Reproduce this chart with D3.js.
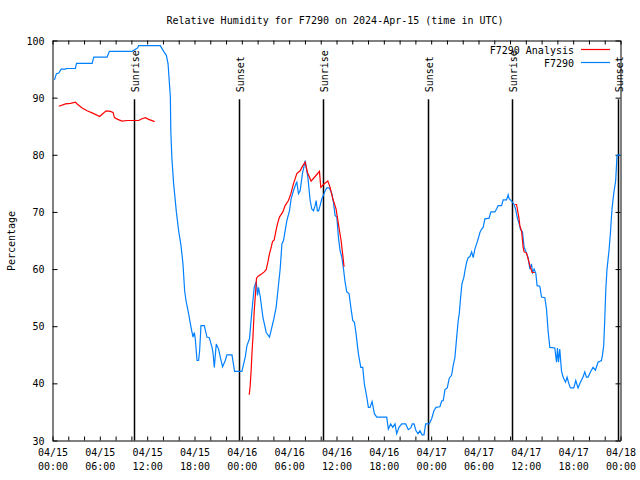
<!DOCTYPE html>
<html>
<head>
<meta charset="utf-8">
<script src="https://cdn.jsdelivr.net/npm/d3@7"></script>
<style>
  html, body { margin: 0; padding: 0; background: #fff; }
  svg { display: block; }
  text { font-family: "DejaVu Sans Mono", "Liberation Mono", monospace; font-size: 10px; fill: #000; }
</style>
</head>
<body>
<svg id="chart" width="640" height="480"></svg>
<script>
// ---- DATA (hours after 2024-04-15 00:00 UTC) ----
const chartTitle = "Relative Humidity for F7290 on 2024-Apr-15 (time in UTC)";
const yLabel = "Percentage";
const seriesNames = ["F7290 Analysis", "F7290"];

const stationHours = [0.25,0.5,0.8,1.1,1.65,1.77,2.9,3.04,5.03,5.23,6.92,7.22,10.09,10.8,10.92,13.67,14.09,14.43,14.65,14.94,15.0,15.13,15.35,15.7,15.99,16.29,16.54,16.75,16.92,17.25,17.56,17.81,17.97,18.1,18.32,18.52,18.65,18.82,19.24,19.58,19.87,20.22,20.34,20.51,20.76,21.05,21.27,21.56,21.9,22.11,22.75,23.08,24.01,24.43,24.65,24.97,25.28,25.57,25.82,25.99,26.11,26.33,26.67,27.09,27.51,28.01,28.35,28.57,28.86,29.08,29.28,29.49,29.71,30.04,30.25,30.54,30.85,30.97,31.18,31.39,31.68,31.9,32.03,32.15,32.37,32.66,32.87,33.08,33.29,33.42,33.58,33.73,33.92,34.14,34.34,34.56,34.77,35.1,35.41,35.61,35.82,36.04,36.24,36.46,36.67,36.87,37.09,37.3,37.59,37.85,38.06,38.27,38.48,38.77,39.08,39.33,39.53,39.84,40.04,40.25,40.51,40.8,41.1,42.37,42.57,42.87,43.13,43.42,43.63,43.92,44.27,44.77,45.1,45.41,45.61,45.82,46.08,46.33,46.58,46.84,47.09,47.3,47.76,48.06,48.35,48.61,49.11,49.33,49.53,49.75,50.04,50.29,50.59,50.8,51.01,51.23,51.43,51.56,51.73,51.9,52.15,52.28,52.49,52.7,52.91,53.13,53.33,53.54,53.76,53.96,54.18,54.39,54.59,54.81,55.35,55.57,56.08,56.29,56.49,56.92,57.13,57.56,57.76,57.89,58.19,58.48,58.7,58.9,59.15,59.33,59.58,59.78,60.0,60.29,60.51,60.72,60.85,61.05,61.27,61.43,61.77,61.99,62.41,62.62,62.82,63.04,63.67,63.89,64.01,64.14,64.3,64.52,64.72,65.03,65.23,65.44,65.66,66.08,66.33,66.62,66.92,67.25,67.47,67.68,67.89,68.19,68.52,68.82,69.15,69.58,69.71,69.87,70.0,70.13,70.29,70.54,70.72,70.92,71.14,71.39,71.56,71.99];
const stationValues = [93.1,94.2,94.3,95.0,95.0,95.1,95.1,96.0,96.0,97.1,97.1,98.1,98.1,98.7,99.1,99.1,98.1,97.4,95.9,90.1,84.0,79.5,75.0,70.0,66.7,64.1,60.9,56.2,54.5,52.2,49.8,48.1,48.9,47.8,44.0,44.0,45.7,50.1,50.1,48.1,48.0,46.3,45.4,42.8,46.9,46.0,44.6,42.9,44.0,45.0,45.0,42.1,42.1,44.6,46.6,47.8,52.7,56.8,57.8,55.4,56.8,55.2,51.6,48.9,48.1,51.0,53.3,56.2,60.0,64.4,65.0,66.7,68.5,70.2,72.3,73.7,74.9,75.2,73.2,73.7,76.7,78.1,79.0,77.8,76.1,72.0,70.5,70.2,71.1,72.0,70.2,70.2,71.1,72.3,72.9,73.7,74.2,74.2,73.2,71.7,69.4,69.1,65.6,63.2,62.1,60.2,57.7,56.0,55.7,53.0,51.0,50.7,48.7,45.2,42.8,42.8,39.9,37.6,35.8,35.8,36.8,34.7,34.1,34.1,32.0,32.9,32.3,32.9,31.2,32.3,32.9,32.9,31.9,32.2,32.9,32.9,31.7,31.2,31.7,31.0,31.0,32.9,32.9,33.8,35.2,35.8,35.9,36.9,37.0,38.9,39.2,40.9,41.4,43.2,44.5,48.0,51.0,52.2,55.0,57.4,58.6,59.7,61.2,62.0,62.2,63.0,62.0,63.5,64.4,65.3,66.4,67.0,67.3,68.8,68.9,70.0,70.0,70.5,71.1,71.1,72.1,72.1,73.0,72.3,71.9,71.4,70.5,69.1,67.9,66.9,66.5,63.8,63.1,62.0,60.0,60.9,59.4,60.0,59.2,57.1,57.0,55.1,55.0,53.0,49.2,46.3,46.2,43.7,46.2,43.7,46.0,42.2,41.1,40.2,41.1,40.0,39.2,39.2,40.5,39.2,40.2,41.1,42.0,41.1,41.1,42.0,42.8,42.3,43.7,44.0,44.9,46.6,51.0,56.2,60.0,63.2,66.2,70.5,73.2,75.5,79.9,80.0];

// null marks a gap in the analysis series
const analysisHours = [0.8,1.65,2.28,2.91,3.13,3.76,4.39,5.23,5.99,6.29,6.8,7.34,7.68,7.85,8.27,8.82,9.46,10.92,11.35,11.77,12.19,12.95,18.0,24.94,25.06,25.19,25.28,25.41,25.57,25.73,25.86,26.11,26.54,26.84,27.09,27.3,27.51,27.72,27.89,28.1,28.32,28.52,28.77,29.2,29.49,29.91,30.22,30.54,30.97,31.39,31.73,32.03,32.32,32.78,33.29,33.84,34.01,34.34,34.9,35.19,35.53,35.95,36.24,36.58,36.8,36.96,48.0,58.61,58.82,59.11,59.24,59.46,59.66,59.78,60.09,60.29,60.51,60.8,61.14];
const analysisValues = [88.5,88.9,89.0,89.2,88.9,88.2,87.7,87.2,86.7,87.1,87.7,87.6,87.4,86.5,86.2,85.9,86.0,86.0,86.3,86.5,86.2,85.8,null,38.0,39.6,42.5,45.2,48.1,52.7,55.7,58.4,58.8,59.2,59.5,59.9,61.2,62.7,63.8,64.8,65.1,66.7,67.9,69.1,70.0,71.1,72.0,73.2,74.9,76.7,77.2,78.1,78.7,76.9,75.4,76.2,77.1,74.3,74.8,75.4,74.3,72.3,70.5,67.9,65.0,62.4,60.4,null,71.3,71.3,69.1,67.6,66.7,63.8,63.0,62.8,61.8,60.6,59.4,59.4];

const sunEventHours = [10.29, 23.58, 34.33, 47.62, 58.25, 71.66];
const sunEventLabels = ["Sunrise", "Sunset", "Sunrise", "Sunset", "Sunrise", "Sunset"];

const yTickValues = [30, 40, 50, 60, 70, 80, 90, 100];
const xLabelHours = [0, 6, 12, 18, 24, 30, 36, 42, 48, 54, 60, 66, 72];
const xMinorHours = d3.range(0, 73, 2);

// ---- CHART ----
const H = 3600 * 1000;
const T0 = Date.UTC(2024, 3, 15, 0, 0);
const toDate = h => new Date(T0 + h * H);

const svg = d3.select("#chart");
const x = d3.scaleUtc().domain([toDate(0), toDate(72)]).range([52.5, 620.5]);
const y = d3.scaleLinear().domain([30, 100]).range([440.5, 40.5]);

const colors = { analysis: "#ff0000", station: "#0080ff" };

// title
svg.append("text").attr("x", 335).attr("y", 24).attr("text-anchor", "middle").text(chartTitle);

// y label
svg.append("text").attr("transform", "translate(15,241) rotate(-90)")
  .attr("text-anchor", "middle").text(yLabel);

// axes
const fmtDay = d3.utcFormat("%m/%d"), fmtTime = d3.utcFormat("%H:%M");

const gBottom = svg.append("g").attr("transform", `translate(0,${y.range()[0]})`)
  .call(d3.axisBottom(x).tickValues(xMinorHours.map(toDate)).tickSizeInner(-4).tickSizeOuter(0).tickFormat(""));
const gTop = svg.append("g").attr("transform", `translate(0,${y.range()[1]})`)
  .call(d3.axisTop(x).tickValues(xMinorHours.map(toDate)).tickSizeInner(-4).tickSizeOuter(0).tickFormat(""));
const gLeft = svg.append("g").attr("transform", `translate(${x.range()[0]},0)`)
  .call(d3.axisLeft(y).tickValues(yTickValues).tickSizeInner(-5).tickSizeOuter(0).tickPadding(8).tickFormat(d3.format("d")));
const gRight = svg.append("g").attr("transform", `translate(${x.range()[1]},0)`)
  .call(d3.axisRight(y).tickValues(yTickValues).tickSizeInner(-5).tickSizeOuter(0).tickFormat(""));

// x labels (two lines) via a label-only axis
const gLabels = svg.append("g").attr("transform", `translate(0,${y.range()[0]})`)
  .call(d3.axisBottom(x).tickValues(xLabelHours.map(toDate)).tickSize(0).tickPadding(8).tickFormat(""));
gLabels.select(".domain").remove();
gLabels.selectAll(".tick text").each(function(d) {
  const t = d3.select(this);
  t.append("tspan").attr("x", 0).attr("dy", "0.71em").text(fmtDay(d));
  t.append("tspan").attr("x", 0).attr("dy", "14").text(fmtTime(d));
});

[gBottom, gTop, gLeft, gRight, gLabels].forEach(g => {
  g.attr("font-family", null).attr("font-size", null);
  g.selectAll("line, path").attr("stroke", "#000").attr("stroke-width", 1);
  g.selectAll("text").attr("fill", "#000");
});
gLeft.selectAll(".tick text").attr("dy", "0.35em");

// sunrise / sunset markers
const sunTop = y(89.7);
const sunG = svg.append("g");
sunEventHours.forEach((h, i) => {
  const xx = Math.round(x(toDate(h))) + 0.5;
  sunG.append("line").attr("x1", xx).attr("x2", xx).attr("y1", sunTop).attr("y2", y.range()[0])
    .attr("stroke", "#000").attr("stroke-width", 1.5);
  sunG.append("text").attr("transform", `translate(${xx + 4.5},${sunTop - 7}) rotate(-90)`)
    .attr("text-anchor", "start").text(sunEventLabels[i]);
});

// data lines
const line = d3.line()
  .defined(d => d[1] !== null)
  .x(d => x(toDate(d[0])))
  .y(d => y(d[1]));

svg.append("path")
  .datum(stationHours.map((h, i) => [h, stationValues[i]]))
  .attr("fill", "none").attr("stroke", colors.station).attr("stroke-width", 1.2)
  .attr("d", line);

svg.append("path")
  .datum(analysisHours.map((h, i) => [h, analysisValues[i]]))
  .attr("fill", "none").attr("stroke", colors.analysis).attr("stroke-width", 1.2)
  .attr("d", line);

// legend
const legend = svg.append("g");
[[seriesNames[0], colors.analysis, 50], [seriesNames[1], colors.station, 63]].forEach(([name, c, ly]) => {
  legend.append("text").attr("x", 574).attr("y", ly).attr("dy", "0.35em").attr("text-anchor", "end").text(name);
  legend.append("line").attr("x1", 581).attr("x2", 610).attr("y1", ly - 0.5).attr("y2", ly - 0.5)
    .attr("stroke", c).attr("stroke-width", 1.2);
});
</script>
</body>
</html>
